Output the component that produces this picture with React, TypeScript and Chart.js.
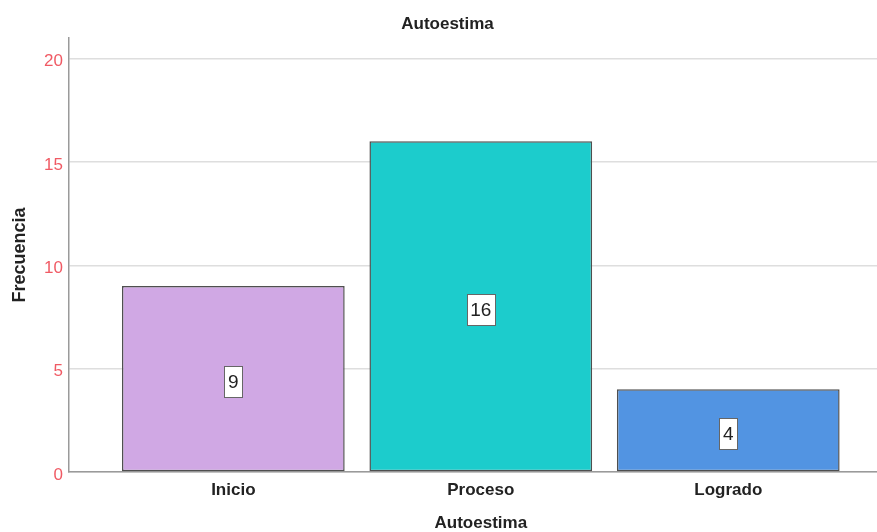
import React, { useEffect, useRef } from "react";
import { Chart, registerables } from "chart.js";

Chart.register(...registerables);

const categories = ["Inicio", "Proceso", "Logrado"];
const frequencies = [9, 16, 4];
const yTicks = [0, 5, 10, 15, 20];
const barColors = ["#D0A8E4", "#1CCCCC", "#5294E2"];
const chartTitle = "Autoestima";
const xTitle = "Autoestima";
const yTitle = "Frecuencia";

const FONT = '"Liberation Sans", Arial, sans-serif';

export default function App() {
  const ref = useRef<HTMLCanvasElement>(null);

  useEffect(() => {
    if (!ref.current) return;

    const valueLabels = {
      id: "valueLabels",
      afterDatasetsDraw(chart: any) {
        const ctx = chart.ctx as CanvasRenderingContext2D;
        const meta = chart.getDatasetMeta(0);
        ctx.save();
        ctx.font = `19px ${FONT}`;
        ctx.textAlign = "center";
        ctx.textBaseline = "middle";
        meta.data.forEach((bar: any, i: number) => {
          const { x, y, base } = bar.getProps(["x", "y", "base"], true);
          const cy = (y + base) / 2 + 3;
          const text = String(frequencies[i]);
          const w = Math.round(ctx.measureText(text).width + 7);
          const h = 31;
          const left = Math.round(x - w / 2) + 0.5;
          const top = Math.round(cy - h / 2) + 0.5;
          ctx.fillStyle = "#ffffff";
          ctx.fillRect(left, top, w, h);
          ctx.strokeStyle = "#666666";
          ctx.lineWidth = 1;
          ctx.strokeRect(left, top, w, h);
          ctx.fillStyle = "#222222";
          ctx.fillText(text, x, cy + 1);
        });
        ctx.restore();
      },
    };

    // x-axis title centred under the middle category
    const xAxisTitle = {
      id: "xAxisTitle",
      afterDraw(chart: any) {
        const ctx = chart.ctx as CanvasRenderingContext2D;
        const xs = chart.scales.x;
        const cx = (xs.getPixelForValue(0) + xs.getPixelForValue(categories.length - 1)) / 2;
        ctx.save();
        ctx.font = `bold 17px ${FONT}`;
        ctx.fillStyle = "#222222";
        ctx.textAlign = "center";
        ctx.textBaseline = "middle";
        ctx.fillText(xTitle, cx, xs.bottom - 9);
        ctx.restore();
      },
    };

    const chart = new Chart(ref.current, {
      type: "bar",
      data: {
        datasets: [
          {
            data: categories.map((_, i) => ({ x: i, y: frequencies[i] })),
            backgroundColor: barColors,
            borderColor: "#4f4f4f",
            borderWidth: 1.5,
            borderSkipped: false,
            categoryPercentage: 1,
            barPercentage: 0.9,
          },
        ],
      },
      options: {
        animation: false,
        responsive: false,
        maintainAspectRatio: false,
        layout: { padding: { left: 18, right: 0, top: 0, bottom: 0 } },
        plugins: {
          legend: { display: false },
          tooltip: { enabled: false },
          title: {
            display: true,
            text: chartTitle,
            color: "#222222",
            font: { family: FONT, size: 17, weight: "bold" },
            padding: { top: 14.3, bottom: 3.3 },
          },
        },
        scales: {
          x: {
            type: "linear",
            min: -0.664,
            max: 2.601,
            offset: false,
            afterBuildTicks: (scale: any) => {
              scale.ticks = categories.map((_, i) => ({ value: i }));
            },
            afterFit: (scale: any) => {
              scale.height = 60;
            },
            grid: { display: false, drawTicks: false },
            border: { display: true, color: "#9a9a9a", width: 1.5 },
            ticks: {
              color: "#222222",
              font: { family: FONT, size: 17, weight: "bold" },
              padding: 8,
              autoSkip: false,
              maxRotation: 0,
              callback: (v: any) => categories[Math.round(Number(v))] ?? "",
            },
            title: { display: false },
          },
          y: {
            type: "linear",
            min: 0,
            max: 21,
            afterBuildTicks: (scale: any) => {
              scale.ticks = yTicks.map((v) => ({ value: v }));
            },
            afterFit: (scale: any) => {
              scale.width = 51;
            },
            grid: { color: "#dedede", lineWidth: 1.5, drawTicks: false },
            border: { display: true, color: "#9a9a9a", width: 1.5 },
            ticks: {
              color: "#F05A64",
              font: { family: FONT, size: 17 },
              padding: 6,
              labelOffset: 3,
            },
            title: {
              display: true,
              text: yTitle,
              color: "#222222",
              font: { family: FONT, size: 18, weight: "bold" },
              padding: { top: -8.8, bottom: 0 },
            },
          },
        },
      },
      plugins: [valueLabels, xAxisTitle],
    } as any);

    return () => chart.destroy();
  }, []);

  return (
    <div style={{ position: "absolute", left: 0, top: 0, width: 877, height: 532, background: "#fff" }}>
      <canvas ref={ref} width={877} height={532} />
    </div>
  );
}
